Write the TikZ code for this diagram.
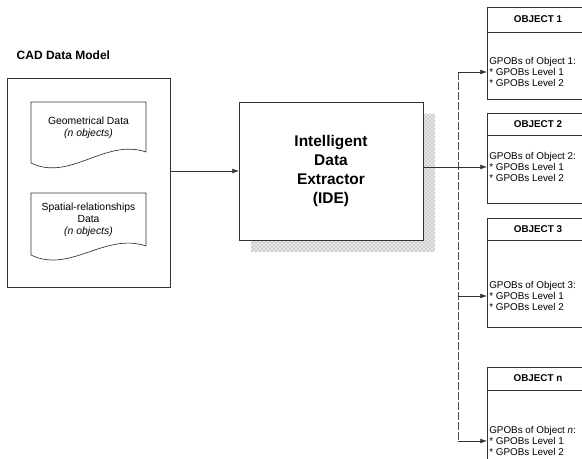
\documentclass[tikz,border=0pt]{standalone}
\usepackage{fontspec}
\setmainfont{Liberation Sans}
\usetikzlibrary{arrows.meta,patterns}
\tikzset{
  ln/.style={draw=black!80, line width=0.5pt},
  arr/.style={ln, -{Latex[length=5pt,width=3.6pt]}},
  trunk/.style={draw=black!70, line width=0.5pt, dash pattern=on 6pt off 1.5pt},
  sz/.style 2 args={minimum width=#1*0.75pt, minimum height=#2*0.75pt},
  box/.style={ln, fill=white, inner sep=0pt, outer sep=0pt},
  doctxt/.style={font=\fontsize{7.8}{9.2}\selectfont, align=center},
  idetxt/.style={font=\fontsize{11.6}{14.2}\selectfont\bfseries, align=center},
  titletxt/.style={font=\fontsize{9}{11}\selectfont\bfseries},
  objhead/.style={font=\fontsize{7.4}{9}\selectfont\bfseries},
  objbody/.style={font=\fontsize{7.4}{8.1}\selectfont, align=left, anchor=west, inner sep=0pt},
  shadowbg/.style={fill=black!10, draw=none},
  shadowdots/.style={pattern=crosshatch dots, pattern color=black!45, draw=none}
}
\begin{document}
\begin{tikzpicture}[x=0.75pt,y=-0.75pt]
\useasboundingbox (0,0) rectangle (582,459);
\clip (0,0) rectangle (582,459);

% title
\node[titletxt, anchor=west] (title) at (12,55) {CAD Data Model};

% CAD outer box
\node[box, sz={163}{209}] (cad) at (88.5,182.5) {};

% document 1
\draw[ln, fill=white] (31,163) -- (31,102) -- (146,102) -- (146,152)
  .. controls (105,138) and (70,182) .. (31,163);
\node[doctxt] (doc1) at (88.5,128) {Geometrical Data\\\textit{(n objects)}};

% document 2
\draw[ln, fill=white] (31,255) -- (31,193) -- (146,193) -- (146,246)
  .. controls (105,232) and (70,274) .. (31,255);
\node[doctxt] (doc2) at (88.5,220) {Spatial-relationships\\Data\\\textit{(n objects)}};

% IDE with shadow
\fill[shadowbg] (251,114) rectangle (435,252);
\fill[shadowdots] (251,114) rectangle (435,252);
\node[box, sz={184}{138}, idetxt] (ide) at (331,171)
  {Intelligent\\Data\\Extractor\\(IDE)};

% CAD -> IDE
\draw[arr] (cad.east |- ide.west) -- (ide.west);

% object boxes
\node[box, sz={106}{92}] (o1) at (540,53) {};
\node[box, sz={106}{90}] (o2) at (540,158) {};
\node[box, sz={106}{109}] (o3) at (540,272.5) {};
\node[box, sz={106}{110}] (on) at (540,422) {};

\draw[ln] (o1.west |- 0,32) -- (o1.east |- 0,32);
\draw[ln] (o2.west |- 0,135) -- (o2.east |- 0,135);
\draw[ln] (o3.west |- 0,240) -- (o3.east |- 0,240);
\draw[ln] (on.west |- 0,390) -- (on.east |- 0,390);

\node[objhead] (h1) at (538,19.5) {OBJECT 1};
\node[objhead] (h2) at (538,124) {OBJECT 2};
\node[objhead] (h3) at (538,229) {OBJECT 3};
\node[objhead] (hn) at (538,378.5) {OBJECT n};

% branch points
\coordinate (b1) at (458,72);
\coordinate (b2) at (458,167);
\coordinate (b3) at (458,296);
\coordinate (bn) at (458,441);

\node[objbody] (t1) at (489,72) {GPOBs of Object 1:\\* GPOBs Level 1\\* GPOBs Level 2};
\node[objbody] (t2) at (489,167) {GPOBs of Object 2:\\* GPOBs Level 1\\* GPOBs Level 2};
\node[objbody] (t3) at (489,296) {GPOBs of Object 3:\\* GPOBs Level 1\\* GPOBs Level 2};
\node[objbody] (tn) at (489,441) {GPOBs of Object \textit{n}:\\* GPOBs Level 1\\* GPOBs Level 2};

% connectors
\draw[ln] (ide.east |- b2) -- (b2);
\draw[trunk] (b1) -- (bn);
\draw[arr] (b1) -- (b1 -| o1.west);
\draw[arr] (b2) -- (b2 -| o2.west);
\draw[arr] (b3) -- (b3 -| o3.west);
\draw[arr] (bn) -- (bn -| on.west);
\end{tikzpicture}
\end{document}
